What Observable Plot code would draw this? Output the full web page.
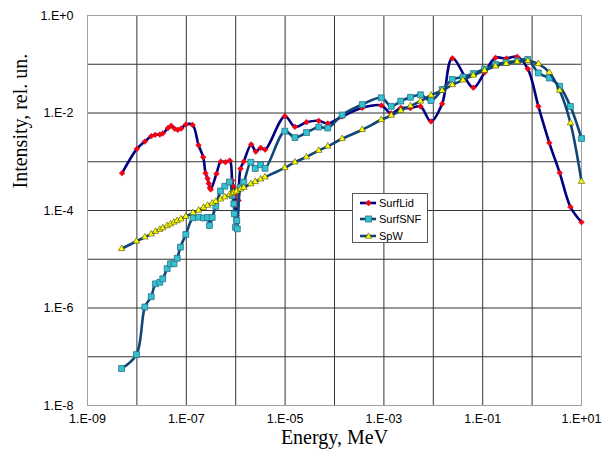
<!DOCTYPE html>
<html>
<head>
<meta charset="utf-8">
<script src="https://cdn.jsdelivr.net/npm/d3@7"></script>
<script src="https://cdn.jsdelivr.net/npm/@observablehq/plot@0.6"></script>
<style>
  body { margin: 0; background: #fff; }
  #wrap { position: relative; width: 612px; height: 458px; }
  #legend { position: absolute; left: 352px; top: 193px; width: 74px; height: 48px;
    background: #fff; border: 1px solid #555; font: 11px "Liberation Sans", Arial, sans-serif; }
  #legend .row { position: absolute; left: 0; height: 14px; display: flex; align-items: center; }
  #legend svg { display: block; }
  #legend span { margin-left: 2px; color: #000; }
</style>
</head>
<body>
<div id="wrap"></div>
<script>
// ---------- data ----------
const energyLid = [5.0e-9, 1.0e-8, 1.45e-8, 1.95e-8, 2.34e-8, 2.91e-8, 3.34e-8, 4.23e-8, 4.94e-8, 5.85e-8,
  6.73e-8, 7.89e-8, 9.8e-8, 1.34e-7, 1.77e-7, 2.2e-7, 2.45e-7, 2.69e-7, 2.85e-7, 2.99e-7,
  3.13e-7, 4.08e-7, 4.99e-7, 6.22e-7, 7.6e-7, 8.49e-7, 9.0e-7, 9.68e-7, 1.01e-6, 1.04e-6,
  1.06e-6, 1.14e-6, 1.25e-6, 1.46e-6, 2.06e-6, 2.55e-6, 3.2e-6, 3.95e-6, 9.9e-6, 1.58e-5,
  2.71e-5, 4.79e-5, 7.31e-5, 1.43e-4, 3.64e-4, 8.85e-4, 1.41e-3, 2.19e-3, 3.45e-3, 5.51e-3,
  8.97e-3, 1.51e-2, 2.43e-2, 6.46e-2, 0.109, 0.182, 0.299, 0.499, 0.818, 1.34,
  2.23, 3.62, 5.98, 10];
const surfLid = [5.82e-4, 1.84e-3, 2.60e-3, 3.34e-3, 3.57e-3, 3.62e-3, 3.80e-3, 4.88e-3, 5.46e-3, 4.74e-3,
  4.52e-3, 4.81e-3, 5.81e-3, 5.7e-3, 2.18e-3, 1.24e-3, 5.82e-4, 4.53e-4, 3.58e-4, 2.92e-4,
  2.70e-4, 5.66e-4, 1.01e-3, 9.8e-4, 1.06e-3, 4.12e-4, 3.1e-4, 2.03e-4, 1.27e-4, 7.9e-5,
  5.67e-5, 1.6e-4, 7.17e-4, 1.01e-3, 2.26e-3, 1.62e-3, 1.93e-3, 1.77e-3, 8.6e-3, 5.21e-3,
  6.48e-3, 6.92e-3, 6.09e-3, 8.48e-3, 1.28e-2, 1.43e-2, 9.77e-3, 1.27e-2, 1.26e-2, 1.36e-2,
  6.7e-3, 1.54e-2, 0.1325, 3.3e-2, 6.77e-2, 0.1356, 0.131, 0.142, 8.07e-2, 1.37e-2,
  2.45e-3, 5.93e-4, 1.18e-4, 5.75e-5];

const energySNF = [4.9e-9, 9.8e-9, 1.45e-8, 1.95e-8, 2.38e-8, 2.91e-8, 3.34e-8, 4.10e-8, 4.79e-8, 5.64e-8,
  6.55e-8, 7.6e-8, 9.77e-8, 1.37e-7, 1.77e-7, 2.23e-7, 2.69e-7, 2.95e-7, 3.34e-7, 3.95e-7,
  4.92e-7, 6.01e-7, 7.48e-7, 8.49e-7, 9.16e-7, 9.38e-7, 9.9e-7, 1.05e-6, 1.08e-6, 1.25e-6,
  1.46e-6, 2.02e-6, 2.48e-6, 3.18e-6, 3.92e-6, 9.86e-6, 1.58e-5, 2.71e-5, 4.79e-5, 7.31e-5,
  1.43e-4, 3.64e-4, 8.85e-4, 1.41e-3, 2.19e-3, 3.45e-3, 5.51e-3, 8.97e-3, 1.51e-2, 2.43e-2,
  3.99e-2, 6.46e-2, 0.109, 0.182, 0.299, 0.499, 0.818, 1.34, 2.23, 3.62,
  5.98, 10];
const surfSNF = [5.74e-8, 1.11e-7, 1.05e-6, 1.71e-6, 3.13e-6, 3.37e-6, 3.97e-6, 6.4e-6, 8.07e-6, 8.07e-6,
  1.05e-5, 1.77e-5, 3.22e-5, 7.08e-5, 7.29e-5, 7.02e-5, 7.18e-5, 4.92e-5, 7.18e-5, 1.22e-4,
  2.51e-4, 3.15e-4, 3.85e-4, 2.03e-4, 1.37e-4, 8.55e-5, 4.54e-5, 6.23e-5, 4.21e-5, 3.01e-4,
  3.81e-4, 9.8e-4, 7.27e-4, 8.65e-4, 7.34e-4, 4.23e-3, 3.14e-3, 3.98e-3, 5.16e-3, 4.92e-3,
  9.1e-3, 1.49e-2, 2.05e-2, 1.37e-2, 1.75e-2, 2.1e-2, 2.37e-2, 1.8e-2, 3.03e-2, 4.86e-2,
  5.47e-2, 6.46e-2, 7.99e-2, 9.88e-2, 0.1086, 0.1166, 0.126, 6.62e-2, 5.22e-2, 3.53e-2,
  1.36e-2, 3.0e-3];

const energySpW = [4.9e-9, 9.8e-9, 1.45e-8, 1.95e-8, 2.38e-8, 2.91e-8, 3.34e-8, 4.10e-8, 4.79e-8, 5.64e-8,
  6.55e-8, 7.75e-8, 9.77e-8, 1.37e-7, 1.77e-7, 2.23e-7, 2.69e-7, 3.34e-7, 3.95e-7, 4.92e-7,
  6.01e-7, 7.48e-7, 8.49e-7, 9.16e-7, 1.04e-6, 1.25e-6, 1.46e-6, 2.02e-6, 2.48e-6, 3.18e-6,
  3.92e-6, 9.86e-6, 1.58e-5, 2.71e-5, 4.79e-5, 7.31e-5, 1.43e-4, 3.64e-4, 8.85e-4, 1.41e-3,
  2.19e-3, 3.45e-3, 5.51e-3, 8.97e-3, 1.51e-2, 2.43e-2, 3.99e-2, 6.46e-2, 0.109, 0.182,
  0.299, 0.499, 0.818, 1.34, 2.23, 3.62, 5.98, 10];
const spW = [1.64e-5, 2.34e-5, 2.83e-5, 3.27e-5, 3.71e-5, 4.07e-5, 4.38e-5, 4.85e-5, 5.28e-5, 5.73e-5,
  6.18e-5, 6.69e-5, 7.53e-5, 8.97e-5, 1.01e-4, 1.15e-4, 1.27e-4, 1.41e-4, 1.53e-4, 1.71e-4,
  1.89e-4, 2.11e-4, 2.25e-4, 2.34e-4, 2.49e-4, 2.74e-4, 2.96e-4, 3.5e-4, 3.88e-4, 4.39e-4,
  4.86e-4, 7.51e-4, 9.8e-4, 1.25e-3, 1.7e-3, 2.08e-3, 2.96e-3, 4.54e-3, 7.26e-3, 8.89e-3,
  1.12e-2, 1.40e-2, 1.74e-2, 2.31e-2, 2.9e-2, 3.79e-2, 4.73e-2, 5.93e-2, 7.44e-2, 9.12e-2,
  0.1036, 0.1123, 0.117, 0.1021, 6.77e-2, 2.9e-2, 6.23e-3, 3.94e-4];

const seriesNames = ["SurfLid", "SurfSNF", "SpW"];
const xTickValues = [1e-9, 1e-7, 1e-5, 1e-3, 1e-1, 1e1];
const xTickLabels = ["1.E-09", "1.E-07", "1.E-05", "1.E-03", "1.E-01", "1.E+01"];
const yTickValues = [1, 1e-2, 1e-4, 1e-6, 1e-8];
const yTickLabels = ["1.E+0", "1.E-2", "1.E-4", "1.E-6", "1.E-8"];
const xGrid = [1e-9, 1e-8, 1e-7, 1e-6, 1e-5, 1e-4, 1e-3, 1e-2, 1e-1, 1, 10];
const yGrid = [1e-8, 1e-7, 1e-6, 1e-5, 1e-4, 1e-3, 1e-2, 1e-1, 1];
const xTitle = "Energy, MeV";
const yTitle = "Intensity, rel. un.";

// ---------- tables ----------
const lid = energyLid.map((e, i) => ({e, v: surfLid[i]}));
const snf = energySNF.map((e, i) => ({e, v: surfSNF[i]}));
const spw = energySpW.map((e, i) => ({e, v: spW[i]}));

const navy = "#000080";
const teal = "#0f4577";
const diamond = {
  draw(ctx, size) {
    const s = Math.sqrt(size) / 1.6;
    ctx.moveTo(0, -s); ctx.lineTo(s, 0); ctx.lineTo(0, s); ctx.lineTo(-s, 0); ctx.closePath();
  }
};

const chart = Plot.plot({
  width: 612, height: 458,
  marginLeft: 87, marginRight: 31, marginTop: 15, marginBottom: 53,
  style: {background: "white", color: "black", fontFamily: "'Liberation Sans', Arial, sans-serif"},
  x: {type: "log", domain: [1e-9, 10]},
  y: {type: "log", domain: [1e-8, 1]},
  marks: [
    Plot.ruleX(xGrid, {stroke: "#333", strokeWidth: 1}),
    Plot.ruleY(yGrid, {stroke: "#333", strokeWidth: 1}),
    Plot.frame({stroke: "#a0a0a0", strokeWidth: 1}),
    Plot.axisX(xTickValues, {anchor: "bottom", tickSize: 0, tickPadding: 9, fontSize: 12.5, label: null,
      tickFormat: d => xTickLabels[xTickValues.indexOf(d)]}),
    Plot.axisY(yTickValues, {anchor: "left", tickSize: 0, tickPadding: 14, fontSize: 12.5, label: null,
      tickFormat: d => yTickLabels[yTickValues.indexOf(d)]}),
    Plot.text([xTitle], {frameAnchor: "bottom", dy: 38, fontSize: 20, fontFamily: "'Liberation Serif', 'Times New Roman', serif", fill: "black"}),
    Plot.text([yTitle], {frameAnchor: "left", dx: -67, dy: -22, rotate: -90, fontSize: 20, fontFamily: "'Liberation Serif', 'Times New Roman', serif", fill: "black"}),
    Plot.line(lid, {x: "e", y: "v", stroke: navy, strokeWidth: 2.6, curve: "catmull-rom"}),
    Plot.dot(lid, {x: "e", y: "v", symbol: diamond, r: 2.6, fill: "#ff0000", stroke: "#b0105a", strokeWidth: 0.5}),
    Plot.line(snf, {x: "e", y: "v", stroke: teal, strokeWidth: 2.6, curve: "catmull-rom"}),
    Plot.dot(snf, {x: "e", y: "v", symbol: "square", r: 3.3, fill: "#33c3cc", stroke: "#2a6f90", strokeWidth: 0.8}),
    Plot.line(spw, {x: "e", y: "v", stroke: teal, strokeWidth: 2.6, curve: "catmull-rom"}),
    Plot.dot(spw, {x: "e", y: "v", symbol: "triangle", r: 2.4, fill: "#ffff00", stroke: "#4a4a10", strokeWidth: 0.6})
  ]
});

const wrap = document.getElementById("wrap");
wrap.appendChild(chart);

// ---------- legend ----------
const legend = document.createElement("div");
legend.id = "legend";
const legendRows = [
  {name: seriesNames[0], line: navy, kind: "diamond", fill: "#ff0000", stroke: "#b0105a"},
  {name: seriesNames[1], line: teal, kind: "square", fill: "#33c3cc", stroke: "#2a6f90"},
  {name: seriesNames[2], line: teal, kind: "triangle", fill: "#ffff00", stroke: "#4a4a10"}
];
legendRows.forEach((r, i) => {
  const row = document.createElement("div");
  row.className = "row";
  row.style.top = (2 + i * 16.3) + "px";
  let marker;
  if (r.kind === "diamond") marker = `<path d="M15.5,4 L18.5,7 L15.5,10 L12.5,7Z" fill="${r.fill}" stroke="${r.stroke}" stroke-width="0.5"/>`;
  else if (r.kind === "square") marker = `<rect x="12.5" y="4" width="6" height="6" fill="${r.fill}" stroke="${r.stroke}" stroke-width="0.8"/>`;
  else marker = `<path d="M15.5,3.8 L18.6,9.3 L12.4,9.3Z" fill="${r.fill}" stroke="${r.stroke}" stroke-width="0.6"/>`;
  row.innerHTML = `<svg width="24" height="14"><line x1="7" y1="7" x2="23" y2="7" stroke="${r.line}" stroke-width="2.6"/>${marker}</svg><span>${r.name}</span>`;
  legend.appendChild(row);
});
wrap.appendChild(legend);
</script>
</body>
</html>
